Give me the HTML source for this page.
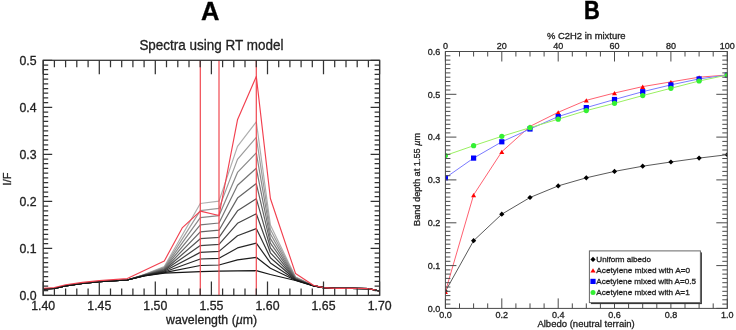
<!DOCTYPE html>
<html><head><meta charset="utf-8"><style>
html,body{margin:0;padding:0;background:#fff;}
svg{display:block;filter:blur(0.35px);}
</style></head><body>
<svg width="736" height="330" viewBox="0 0 736 330">
<style>text{stroke:#222;stroke-width:0.3px;}</style>
<rect width="736" height="330" fill="#fff"/>
<g fill="none" stroke-linejoin="round">
<polyline points="43.2,288.8 54.4,288.3 65.6,285.8 82.4,283.5 99.3,281.7 127.3,280.0 144.1,274.5 164.3,266.5 200.3,203.5 219.0,201.1 237.5,146.4 256.3,121.8 270.4,225.0 295.5,277.0 313.4,285.6 323.5,287.6 334.7,288.4 351.6,288.3 368.4,288.7 379.6,291.0" stroke="rgb(175,175,175)" stroke-width="1.2"/>
<polyline points="43.2,288.8 54.4,288.3 65.6,285.8 82.4,283.5 99.3,281.7 127.3,280.0 144.1,274.7 164.3,267.2 200.3,210.6 219.0,208.4 237.5,159.4 256.3,137.4 270.4,229.5 295.5,277.4 313.4,285.6 323.5,287.6 334.7,288.4 351.6,288.3 368.4,288.7 379.6,291.0" stroke="rgb(155,155,155)" stroke-width="1.2"/>
<polyline points="43.2,288.8 54.4,288.3 65.6,285.8 82.4,283.5 99.3,281.7 127.3,280.0 144.1,274.8 164.3,267.9 200.3,217.7 219.0,215.7 237.5,172.4 256.3,152.9 270.4,234.0 295.5,277.7 313.4,285.6 323.5,287.6 334.7,288.4 351.6,288.3 368.4,288.7 379.6,291.0" stroke="rgb(136,136,136)" stroke-width="1.2"/>
<polyline points="43.2,288.8 54.4,288.3 65.6,285.8 82.4,283.5 99.3,281.7 127.3,280.0 144.1,275.0 164.3,268.6 200.3,224.8 219.0,223.0 237.5,185.3 256.3,168.3 270.4,238.6 295.5,278.1 313.4,285.7 323.5,287.6 334.7,288.4 351.6,288.3 368.4,288.7 379.6,291.0" stroke="rgb(117,117,117)" stroke-width="1.2"/>
<polyline points="43.2,288.8 54.4,288.3 65.6,285.8 82.4,283.5 99.3,281.7 127.3,280.0 144.1,275.1 164.3,269.3 200.3,231.8 219.0,230.2 237.5,198.1 256.3,183.6 270.4,243.2 295.5,278.5 313.4,285.7 323.5,287.6 334.7,288.4 351.6,288.3 368.4,288.7 379.6,291.0" stroke="rgb(100,100,100)" stroke-width="1.2"/>
<polyline points="43.2,288.8 54.4,288.3 65.6,285.8 82.4,283.5 99.3,281.7 127.3,280.0 144.1,275.3 164.3,270.0 200.3,238.7 219.0,237.3 237.5,210.8 256.3,198.7 270.4,248.0 295.5,278.8 313.4,285.7 323.5,287.6 334.7,288.4 351.6,288.3 368.4,288.7 379.6,291.0" stroke="rgb(83,83,83)" stroke-width="1.2"/>
<polyline points="43.2,288.8 54.4,288.3 65.6,285.8 82.4,283.5 99.3,281.7 127.3,280.0 144.1,275.4 164.3,270.6 200.3,245.6 219.0,244.4 237.5,223.3 256.3,213.7 270.4,252.8 295.5,279.2 313.4,285.7 323.5,287.6 334.7,288.4 351.6,288.3 368.4,288.7 379.6,291.0" stroke="rgb(67,67,67)" stroke-width="1.2"/>
<polyline points="43.2,288.8 54.4,288.3 65.6,285.8 82.4,283.5 99.3,281.7 127.3,280.0 144.1,275.6 164.3,271.3 200.3,252.4 219.0,251.4 237.5,235.7 256.3,228.6 270.4,257.8 295.5,279.5 313.4,285.7 323.5,287.6 334.7,288.4 351.6,288.3 368.4,288.7 379.6,291.0" stroke="rgb(52,52,52)" stroke-width="1.2"/>
<polyline points="43.2,288.8 54.4,288.3 65.6,285.8 82.4,283.5 99.3,281.7 127.3,280.0 144.1,275.7 164.3,272.0 200.3,259.0 219.0,258.3 237.5,247.9 256.3,243.1 270.4,262.9 295.5,279.9 313.4,285.8 323.5,287.6 334.7,288.4 351.6,288.3 368.4,288.7 379.6,291.0" stroke="rgb(39,39,39)" stroke-width="1.2"/>
<polyline points="43.2,288.8 54.4,288.3 65.6,285.8 82.4,283.5 99.3,281.7 127.3,280.0 144.1,275.9 164.3,272.6 200.3,265.5 219.0,265.0 237.5,259.8 256.3,257.3 270.4,268.3 295.5,280.2 313.4,285.8 323.5,287.6 334.7,288.4 351.6,288.3 368.4,288.7 379.6,291.0" stroke="rgb(28,28,28)" stroke-width="1.2"/>
<polyline points="43.2,288.8 54.4,288.3 65.6,285.8 82.4,283.5 99.3,281.7 127.3,280.0 144.1,276.0 164.3,273.2 200.3,271.6 219.0,271.2 237.5,270.9 256.3,270.6 270.4,274.5 295.5,280.5 313.4,285.8 323.5,287.6 334.7,288.4 351.6,288.3 368.4,288.7 379.6,291.0" stroke="rgb(20,20,20)" stroke-width="1.2"/>
</g>
<line x1="200.3" y1="60.3" x2="200.3" y2="295.4" stroke="#f04850" stroke-width="1.2"/>
<line x1="219.0" y1="60.3" x2="219.0" y2="295.4" stroke="#f04850" stroke-width="1.2"/>
<line x1="256.3" y1="60.3" x2="256.3" y2="295.4" stroke="#f04850" stroke-width="1.2"/>
<polyline points="43.2,288.2 54.4,287.5 65.6,284.7 82.4,282.4 99.3,280.6 127.3,278.6 164.3,261.0 182.2,227.9 200.3,211.1 219.0,215.5 237.5,119.8 256.3,76.4 270.4,198.5 295.5,273.4 313.4,285.3 323.5,287.6 334.7,288.4 351.6,288.2 368.4,288.6 379.6,291.0" fill="none" stroke="#f2404f" stroke-width="1.15" stroke-linejoin="round"/>
<rect x="43.2" y="60.3" width="336.4" height="235.1" fill="none" stroke="#333" stroke-width="1.25"/>
<path d="M43.2,295.4v-14M43.2,60.3v14M54.4,295.4v-7M54.4,60.3v7M65.6,295.4v-7M65.6,60.3v7M76.8,295.4v-7M76.8,60.3v7M88.1,295.4v-7M88.1,60.3v7M99.3,295.4v-14M99.3,60.3v14M110.5,295.4v-7M110.5,60.3v7M121.7,295.4v-7M121.7,60.3v7M132.9,295.4v-7M132.9,60.3v7M144.1,295.4v-7M144.1,60.3v7M155.3,295.4v-14M155.3,60.3v14M166.5,295.4v-7M166.5,60.3v7M177.8,295.4v-7M177.8,60.3v7M189.0,295.4v-7M189.0,60.3v7M200.2,295.4v-7M200.2,60.3v7M211.4,295.4v-14M211.4,60.3v14M222.6,295.4v-7M222.6,60.3v7M233.8,295.4v-7M233.8,60.3v7M245.0,295.4v-7M245.0,60.3v7M256.3,295.4v-7M256.3,60.3v7M267.5,295.4v-14M267.5,60.3v14M278.7,295.4v-7M278.7,60.3v7M289.9,295.4v-7M289.9,60.3v7M301.1,295.4v-7M301.1,60.3v7M312.3,295.4v-7M312.3,60.3v7M323.5,295.4v-14M323.5,60.3v14M334.7,295.4v-7M334.7,60.3v7M346.0,295.4v-7M346.0,60.3v7M357.2,295.4v-7M357.2,60.3v7M368.4,295.4v-7M368.4,60.3v7M379.6,295.4v-14M379.6,60.3v14M43.2,295.4h9M379.6,295.4h-9M43.2,290.7h5M379.6,290.7h-5M43.2,286.0h5M379.6,286.0h-5M43.2,281.3h5M379.6,281.3h-5M43.2,276.6h5M379.6,276.6h-5M43.2,271.9h5M379.6,271.9h-5M43.2,267.2h5M379.6,267.2h-5M43.2,262.5h5M379.6,262.5h-5M43.2,257.8h5M379.6,257.8h-5M43.2,253.1h5M379.6,253.1h-5M43.2,248.4h9M379.6,248.4h-9M43.2,243.7h5M379.6,243.7h-5M43.2,239.0h5M379.6,239.0h-5M43.2,234.3h5M379.6,234.3h-5M43.2,229.6h5M379.6,229.6h-5M43.2,224.9h5M379.6,224.9h-5M43.2,220.2h5M379.6,220.2h-5M43.2,215.5h5M379.6,215.5h-5M43.2,210.8h5M379.6,210.8h-5M43.2,206.1h5M379.6,206.1h-5M43.2,201.4h9M379.6,201.4h-9M43.2,196.7h5M379.6,196.7h-5M43.2,192.0h5M379.6,192.0h-5M43.2,187.3h5M379.6,187.3h-5M43.2,182.6h5M379.6,182.6h-5M43.2,177.8h5M379.6,177.8h-5M43.2,173.1h5M379.6,173.1h-5M43.2,168.4h5M379.6,168.4h-5M43.2,163.7h5M379.6,163.7h-5M43.2,159.0h5M379.6,159.0h-5M43.2,154.3h9M379.6,154.3h-9M43.2,149.6h5M379.6,149.6h-5M43.2,144.9h5M379.6,144.9h-5M43.2,140.2h5M379.6,140.2h-5M43.2,135.5h5M379.6,135.5h-5M43.2,130.8h5M379.6,130.8h-5M43.2,126.1h5M379.6,126.1h-5M43.2,121.4h5M379.6,121.4h-5M43.2,116.7h5M379.6,116.7h-5M43.2,112.0h5M379.6,112.0h-5M43.2,107.3h9M379.6,107.3h-9M43.2,102.6h5M379.6,102.6h-5M43.2,97.9h5M379.6,97.9h-5M43.2,93.2h5M379.6,93.2h-5M43.2,88.5h5M379.6,88.5h-5M43.2,83.8h5M379.6,83.8h-5M43.2,79.1h5M379.6,79.1h-5M43.2,74.4h5M379.6,74.4h-5M43.2,69.7h5M379.6,69.7h-5M43.2,65.0h5M379.6,65.0h-5M43.2,60.3h9M379.6,60.3h-9" stroke="#333" stroke-width="1.25" fill="none"/>
<g font-family="'Liberation Sans', sans-serif" font-size="12.3" fill="#222">
<text x="43.2" y="309.6" text-anchor="middle">1.40</text>
<text x="99.3" y="309.6" text-anchor="middle">1.45</text>
<text x="155.3" y="309.6" text-anchor="middle">1.50</text>
<text x="211.4" y="309.6" text-anchor="middle">1.55</text>
<text x="267.5" y="309.6" text-anchor="middle">1.60</text>
<text x="323.5" y="309.6" text-anchor="middle">1.65</text>
<text x="379.6" y="309.6" text-anchor="middle">1.70</text>
<text x="36.6" y="299.8" text-anchor="end">0.0</text>
<text x="36.6" y="252.8" text-anchor="end">0.1</text>
<text x="36.6" y="205.8" text-anchor="end">0.2</text>
<text x="36.6" y="158.7" text-anchor="end">0.3</text>
<text x="36.6" y="111.7" text-anchor="end">0.4</text>
<text x="36.6" y="64.7" text-anchor="end">0.5</text>
</g>
<text x="211.4" y="50" font-family="'Liberation Sans', sans-serif" font-size="14" fill="#222" text-anchor="middle" textLength="144" lengthAdjust="spacingAndGlyphs">Spectra using RT model</text>
<text x="211.6" y="323.9" font-family="'Liberation Sans', sans-serif" font-size="12.3" fill="#222" text-anchor="middle">wavelength (<tspan font-style="italic">µ</tspan>m)</text>
<text transform="translate(10.9,179) rotate(-90)" font-family="'Liberation Sans', sans-serif" font-size="11" fill="#222" text-anchor="middle">I/F</text>
<defs><clipPath id="rc"><rect x="445.4" y="51.5" width="281.9" height="256.9"/></clipPath></defs>
<g clip-path="url(#rc)">
<polyline points="445.4,291.3 473.6,240.7 501.8,214.2 530.0,197.5 558.2,185.9 586.3,177.8 614.5,171.4 642.7,166.2 670.9,162.0 699.1,158.1 727.3,154.7" fill="none" stroke="#5a5a5a" stroke-width="1"/>
<path d="M445.4,288.7L448.0,291.3L445.4,293.9L442.8,291.3Z" fill="#000"/>
<path d="M473.6,238.1L476.2,240.7L473.6,243.3L471.0,240.7Z" fill="#000"/>
<path d="M501.8,211.6L504.4,214.2L501.8,216.8L499.2,214.2Z" fill="#000"/>
<path d="M530.0,194.9L532.6,197.5L530.0,200.1L527.4,197.5Z" fill="#000"/>
<path d="M558.2,183.3L560.8,185.9L558.2,188.5L555.6,185.9Z" fill="#000"/>
<path d="M586.3,175.2L588.9,177.8L586.3,180.4L583.7,177.8Z" fill="#000"/>
<path d="M614.5,168.8L617.1,171.4L614.5,174.0L611.9,171.4Z" fill="#000"/>
<path d="M642.7,163.6L645.3,166.2L642.7,168.8L640.1,166.2Z" fill="#000"/>
<path d="M670.9,159.4L673.5,162.0L670.9,164.6L668.3,162.0Z" fill="#000"/>
<path d="M699.1,155.5L701.7,158.1L699.1,160.7L696.5,158.1Z" fill="#000"/>
<path d="M727.3,152.1L729.9,154.7L727.3,157.3L724.7,154.7Z" fill="#000"/>
<polyline points="445.4,291.7 473.6,194.9 501.8,151.7 530.0,126.4 558.2,112.3 586.3,100.3 614.5,93.0 642.7,86.6 670.9,81.9 699.1,77.2 727.3,75.0" fill="none" stroke="#ff6070" stroke-width="1"/>
<path d="M445.4,289.7L447.9,294.0L442.9,294.0Z" fill="#ff0000"/>
<path d="M473.6,192.9L476.1,197.2L471.1,197.2Z" fill="#ff0000"/>
<path d="M501.8,149.7L504.3,153.9L499.3,153.9Z" fill="#ff0000"/>
<path d="M530.0,124.4L532.5,128.7L527.5,128.7Z" fill="#ff0000"/>
<path d="M558.2,110.3L560.7,114.5L555.7,114.5Z" fill="#ff0000"/>
<path d="M586.3,98.3L588.8,102.6L583.8,102.6Z" fill="#ff0000"/>
<path d="M614.5,91.0L617.0,95.3L612.0,95.3Z" fill="#ff0000"/>
<path d="M642.7,84.6L645.2,88.9L640.2,88.9Z" fill="#ff0000"/>
<path d="M670.9,79.9L673.4,84.1L668.4,84.1Z" fill="#ff0000"/>
<path d="M699.1,75.2L701.6,79.4L696.6,79.4Z" fill="#ff0000"/>
<path d="M727.3,73.0L729.8,77.3L724.8,77.3Z" fill="#ff0000"/>
<polyline points="445.4,177.8 473.6,158.1 501.8,141.8 530.0,129.0 558.2,116.6 586.3,107.6 614.5,99.5 642.7,91.7 670.9,84.9 699.1,78.9 727.3,75.0" fill="none" stroke="#7a7aff" stroke-width="1"/>
<rect x="442.8" y="175.2" width="5.2" height="5.2" fill="#0000ff"/>
<rect x="471.0" y="155.5" width="5.2" height="5.2" fill="#0000ff"/>
<rect x="499.2" y="139.2" width="5.2" height="5.2" fill="#0000ff"/>
<rect x="527.4" y="126.4" width="5.2" height="5.2" fill="#0000ff"/>
<rect x="555.6" y="114.0" width="5.2" height="5.2" fill="#0000ff"/>
<rect x="583.7" y="105.0" width="5.2" height="5.2" fill="#0000ff"/>
<rect x="611.9" y="96.9" width="5.2" height="5.2" fill="#0000ff"/>
<rect x="640.1" y="89.1" width="5.2" height="5.2" fill="#0000ff"/>
<rect x="668.3" y="82.3" width="5.2" height="5.2" fill="#0000ff"/>
<rect x="696.5" y="76.3" width="5.2" height="5.2" fill="#0000ff"/>
<rect x="724.7" y="72.4" width="5.2" height="5.2" fill="#0000ff"/>
<polyline points="445.4,155.5 473.6,145.7 501.8,136.3 530.0,127.7 558.2,119.2 586.3,110.6 614.5,103.3 642.7,95.6 670.9,88.3 699.1,81.0 727.3,75.0" fill="none" stroke="#99f060" stroke-width="1"/>
<circle cx="445.4" cy="155.5" r="2.6" fill="#33f033"/>
<circle cx="473.6" cy="145.7" r="2.6" fill="#33f033"/>
<circle cx="501.8" cy="136.3" r="2.6" fill="#33f033"/>
<circle cx="530.0" cy="127.7" r="2.6" fill="#33f033"/>
<circle cx="558.2" cy="119.2" r="2.6" fill="#33f033"/>
<circle cx="586.3" cy="110.6" r="2.6" fill="#33f033"/>
<circle cx="614.5" cy="103.3" r="2.6" fill="#33f033"/>
<circle cx="642.7" cy="95.6" r="2.6" fill="#33f033"/>
<circle cx="670.9" cy="88.3" r="2.6" fill="#33f033"/>
<circle cx="699.1" cy="81.0" r="2.6" fill="#33f033"/>
<circle cx="727.3" cy="75.0" r="2.6" fill="#33f033"/>
</g>
<rect x="445.4" y="51.5" width="281.9" height="256.9" fill="none" stroke="#4a4a4a" stroke-width="1"/>
<path d="M445.4,308.4v-10M445.4,51.5v10M459.5,308.4v-5M459.5,51.5v5M473.6,308.4v-5M473.6,51.5v5M487.7,308.4v-5M487.7,51.5v5M501.8,308.4v-10M501.8,51.5v10M515.9,308.4v-5M515.9,51.5v5M530.0,308.4v-5M530.0,51.5v5M544.1,308.4v-5M544.1,51.5v5M558.2,308.4v-10M558.2,51.5v10M572.3,308.4v-5M572.3,51.5v5M586.3,308.4v-5M586.3,51.5v5M600.4,308.4v-5M600.4,51.5v5M614.5,308.4v-10M614.5,51.5v10M628.6,308.4v-5M628.6,51.5v5M642.7,308.4v-5M642.7,51.5v5M656.8,308.4v-5M656.8,51.5v5M670.9,308.4v-10M670.9,51.5v10M685.0,308.4v-5M685.0,51.5v5M699.1,308.4v-5M699.1,51.5v5M713.2,308.4v-5M713.2,51.5v5M727.3,308.4v-10M727.3,51.5v10M445.4,308.4h11M727.3,308.4h-11M445.4,304.1h5M727.3,304.1h-5M445.4,299.8h5M727.3,299.8h-5M445.4,295.6h5M727.3,295.6h-5M445.4,291.3h5M727.3,291.3h-5M445.4,287.0h5M727.3,287.0h-5M445.4,282.7h5M727.3,282.7h-5M445.4,278.4h5M727.3,278.4h-5M445.4,274.1h5M727.3,274.1h-5M445.4,269.9h5M727.3,269.9h-5M445.4,265.6h11M727.3,265.6h-11M445.4,261.3h5M727.3,261.3h-5M445.4,257.0h5M727.3,257.0h-5M445.4,252.7h5M727.3,252.7h-5M445.4,248.5h5M727.3,248.5h-5M445.4,244.2h5M727.3,244.2h-5M445.4,239.9h5M727.3,239.9h-5M445.4,235.6h5M727.3,235.6h-5M445.4,231.3h5M727.3,231.3h-5M445.4,227.0h5M727.3,227.0h-5M445.4,222.8h11M727.3,222.8h-11M445.4,218.5h5M727.3,218.5h-5M445.4,214.2h5M727.3,214.2h-5M445.4,209.9h5M727.3,209.9h-5M445.4,205.6h5M727.3,205.6h-5M445.4,201.4h5M727.3,201.4h-5M445.4,197.1h5M727.3,197.1h-5M445.4,192.8h5M727.3,192.8h-5M445.4,188.5h5M727.3,188.5h-5M445.4,184.2h5M727.3,184.2h-5M445.4,179.9h11M727.3,179.9h-11M445.4,175.7h5M727.3,175.7h-5M445.4,171.4h5M727.3,171.4h-5M445.4,167.1h5M727.3,167.1h-5M445.4,162.8h5M727.3,162.8h-5M445.4,158.5h5M727.3,158.5h-5M445.4,154.3h5M727.3,154.3h-5M445.4,150.0h5M727.3,150.0h-5M445.4,145.7h5M727.3,145.7h-5M445.4,141.4h5M727.3,141.4h-5M445.4,137.1h11M727.3,137.1h-11M445.4,132.9h5M727.3,132.9h-5M445.4,128.6h5M727.3,128.6h-5M445.4,124.3h5M727.3,124.3h-5M445.4,120.0h5M727.3,120.0h-5M445.4,115.7h5M727.3,115.7h-5M445.4,111.4h5M727.3,111.4h-5M445.4,107.2h5M727.3,107.2h-5M445.4,102.9h5M727.3,102.9h-5M445.4,98.6h5M727.3,98.6h-5M445.4,94.3h11M727.3,94.3h-11M445.4,90.0h5M727.3,90.0h-5M445.4,85.8h5M727.3,85.8h-5M445.4,81.5h5M727.3,81.5h-5M445.4,77.2h5M727.3,77.2h-5M445.4,72.9h5M727.3,72.9h-5M445.4,68.6h5M727.3,68.6h-5M445.4,64.3h5M727.3,64.3h-5M445.4,60.1h5M727.3,60.1h-5M445.4,55.8h5M727.3,55.8h-5M445.4,51.5h11M727.3,51.5h-11" stroke="#4a4a4a" stroke-width="1" fill="none"/>
<g font-family="'Liberation Sans', sans-serif" font-size="9" fill="#222">
<text x="445.4" y="317.6" text-anchor="middle">0.0</text>
<text x="445.4" y="48.7" text-anchor="middle">0</text>
<text x="501.8" y="317.6" text-anchor="middle">0.2</text>
<text x="501.8" y="48.7" text-anchor="middle">20</text>
<text x="558.2" y="317.6" text-anchor="middle">0.4</text>
<text x="558.2" y="48.7" text-anchor="middle">40</text>
<text x="614.5" y="317.6" text-anchor="middle">0.6</text>
<text x="614.5" y="48.7" text-anchor="middle">60</text>
<text x="670.9" y="317.6" text-anchor="middle">0.8</text>
<text x="670.9" y="48.7" text-anchor="middle">80</text>
<text x="727.3" y="317.6" text-anchor="middle">1.0</text>
<text x="727.3" y="48.7" text-anchor="middle">100</text>
<text x="440.2" y="311.6" text-anchor="end">0.0</text>
<text x="440.2" y="268.8" text-anchor="end">0.1</text>
<text x="440.2" y="226.0" text-anchor="end">0.2</text>
<text x="440.2" y="183.1" text-anchor="end">0.3</text>
<text x="440.2" y="140.3" text-anchor="end">0.4</text>
<text x="440.2" y="97.5" text-anchor="end">0.5</text>
<text x="440.2" y="54.7" text-anchor="end">0.6</text>
</g>
<text x="586.3" y="39.4" font-family="'Liberation Sans', sans-serif" font-size="9" fill="#222" text-anchor="middle" textLength="78.5" lengthAdjust="spacingAndGlyphs">% C2H2 in mixture</text>
<text x="586.1" y="327.4" font-family="'Liberation Sans', sans-serif" font-size="9.5" fill="#222" text-anchor="middle" textLength="97.4" lengthAdjust="spacingAndGlyphs">Albedo (neutral terrain)</text>
<text transform="translate(420.2,179.4) rotate(-90)" font-family="'Liberation Sans', sans-serif" font-size="9.2" fill="#222" text-anchor="middle">Band depth at 1.55 <tspan font-style="italic">µ</tspan>m</text>
<rect x="590.9" y="252.4" width="111.0" height="51.7" fill="#333"/>
<rect x="589.4" y="250.9" width="111.0" height="51.7" fill="#fff" stroke="#666" stroke-width="1"/>
<path d="M593.0,256.8L595.6,259.4L593.0,262.0L590.4,259.4Z" fill="#000"/>
<text x="596.3" y="262.2" font-family="'Liberation Sans', sans-serif" font-size="7.9" fill="#2a2a2a" textLength="54.8" lengthAdjust="spacingAndGlyphs">Uniform albedo</text>
<path d="M593.0,268.2L595.6,272.6L590.4,272.6Z" fill="#ff0000"/>
<text x="596.3" y="273.1" font-family="'Liberation Sans', sans-serif" font-size="7.9" fill="#2a2a2a" textLength="93.8" lengthAdjust="spacingAndGlyphs">Acetylene mixed with A=0</text>
<rect x="590.4" y="278.8" width="5.2" height="5.2" fill="#0000ff"/>
<text x="596.3" y="284.2" font-family="'Liberation Sans', sans-serif" font-size="7.9" fill="#2a2a2a" textLength="99.8" lengthAdjust="spacingAndGlyphs">Acetylene mixed with A=0.5</text>
<circle cx="593.0" cy="292.6" r="2.5" fill="#33f033"/>
<text x="596.3" y="295.4" font-family="'Liberation Sans', sans-serif" font-size="7.9" fill="#2a2a2a" textLength="93.4" lengthAdjust="spacingAndGlyphs">Acetylene mixed with A=1</text>
<text x="210.2" y="20" font-family="'Liberation Sans', sans-serif" font-weight="bold" font-size="25.5" fill="#000" style="stroke:#000;stroke-width:0.3px" text-anchor="middle">A</text>
<text transform="translate(591.8,18.9) scale(0.86,0.98)" font-family="'Liberation Sans', sans-serif" font-weight="bold" font-size="25.5" fill="#000" style="stroke:#000;stroke-width:0.5px" text-anchor="middle">B</text>
</svg>
</body></html>
